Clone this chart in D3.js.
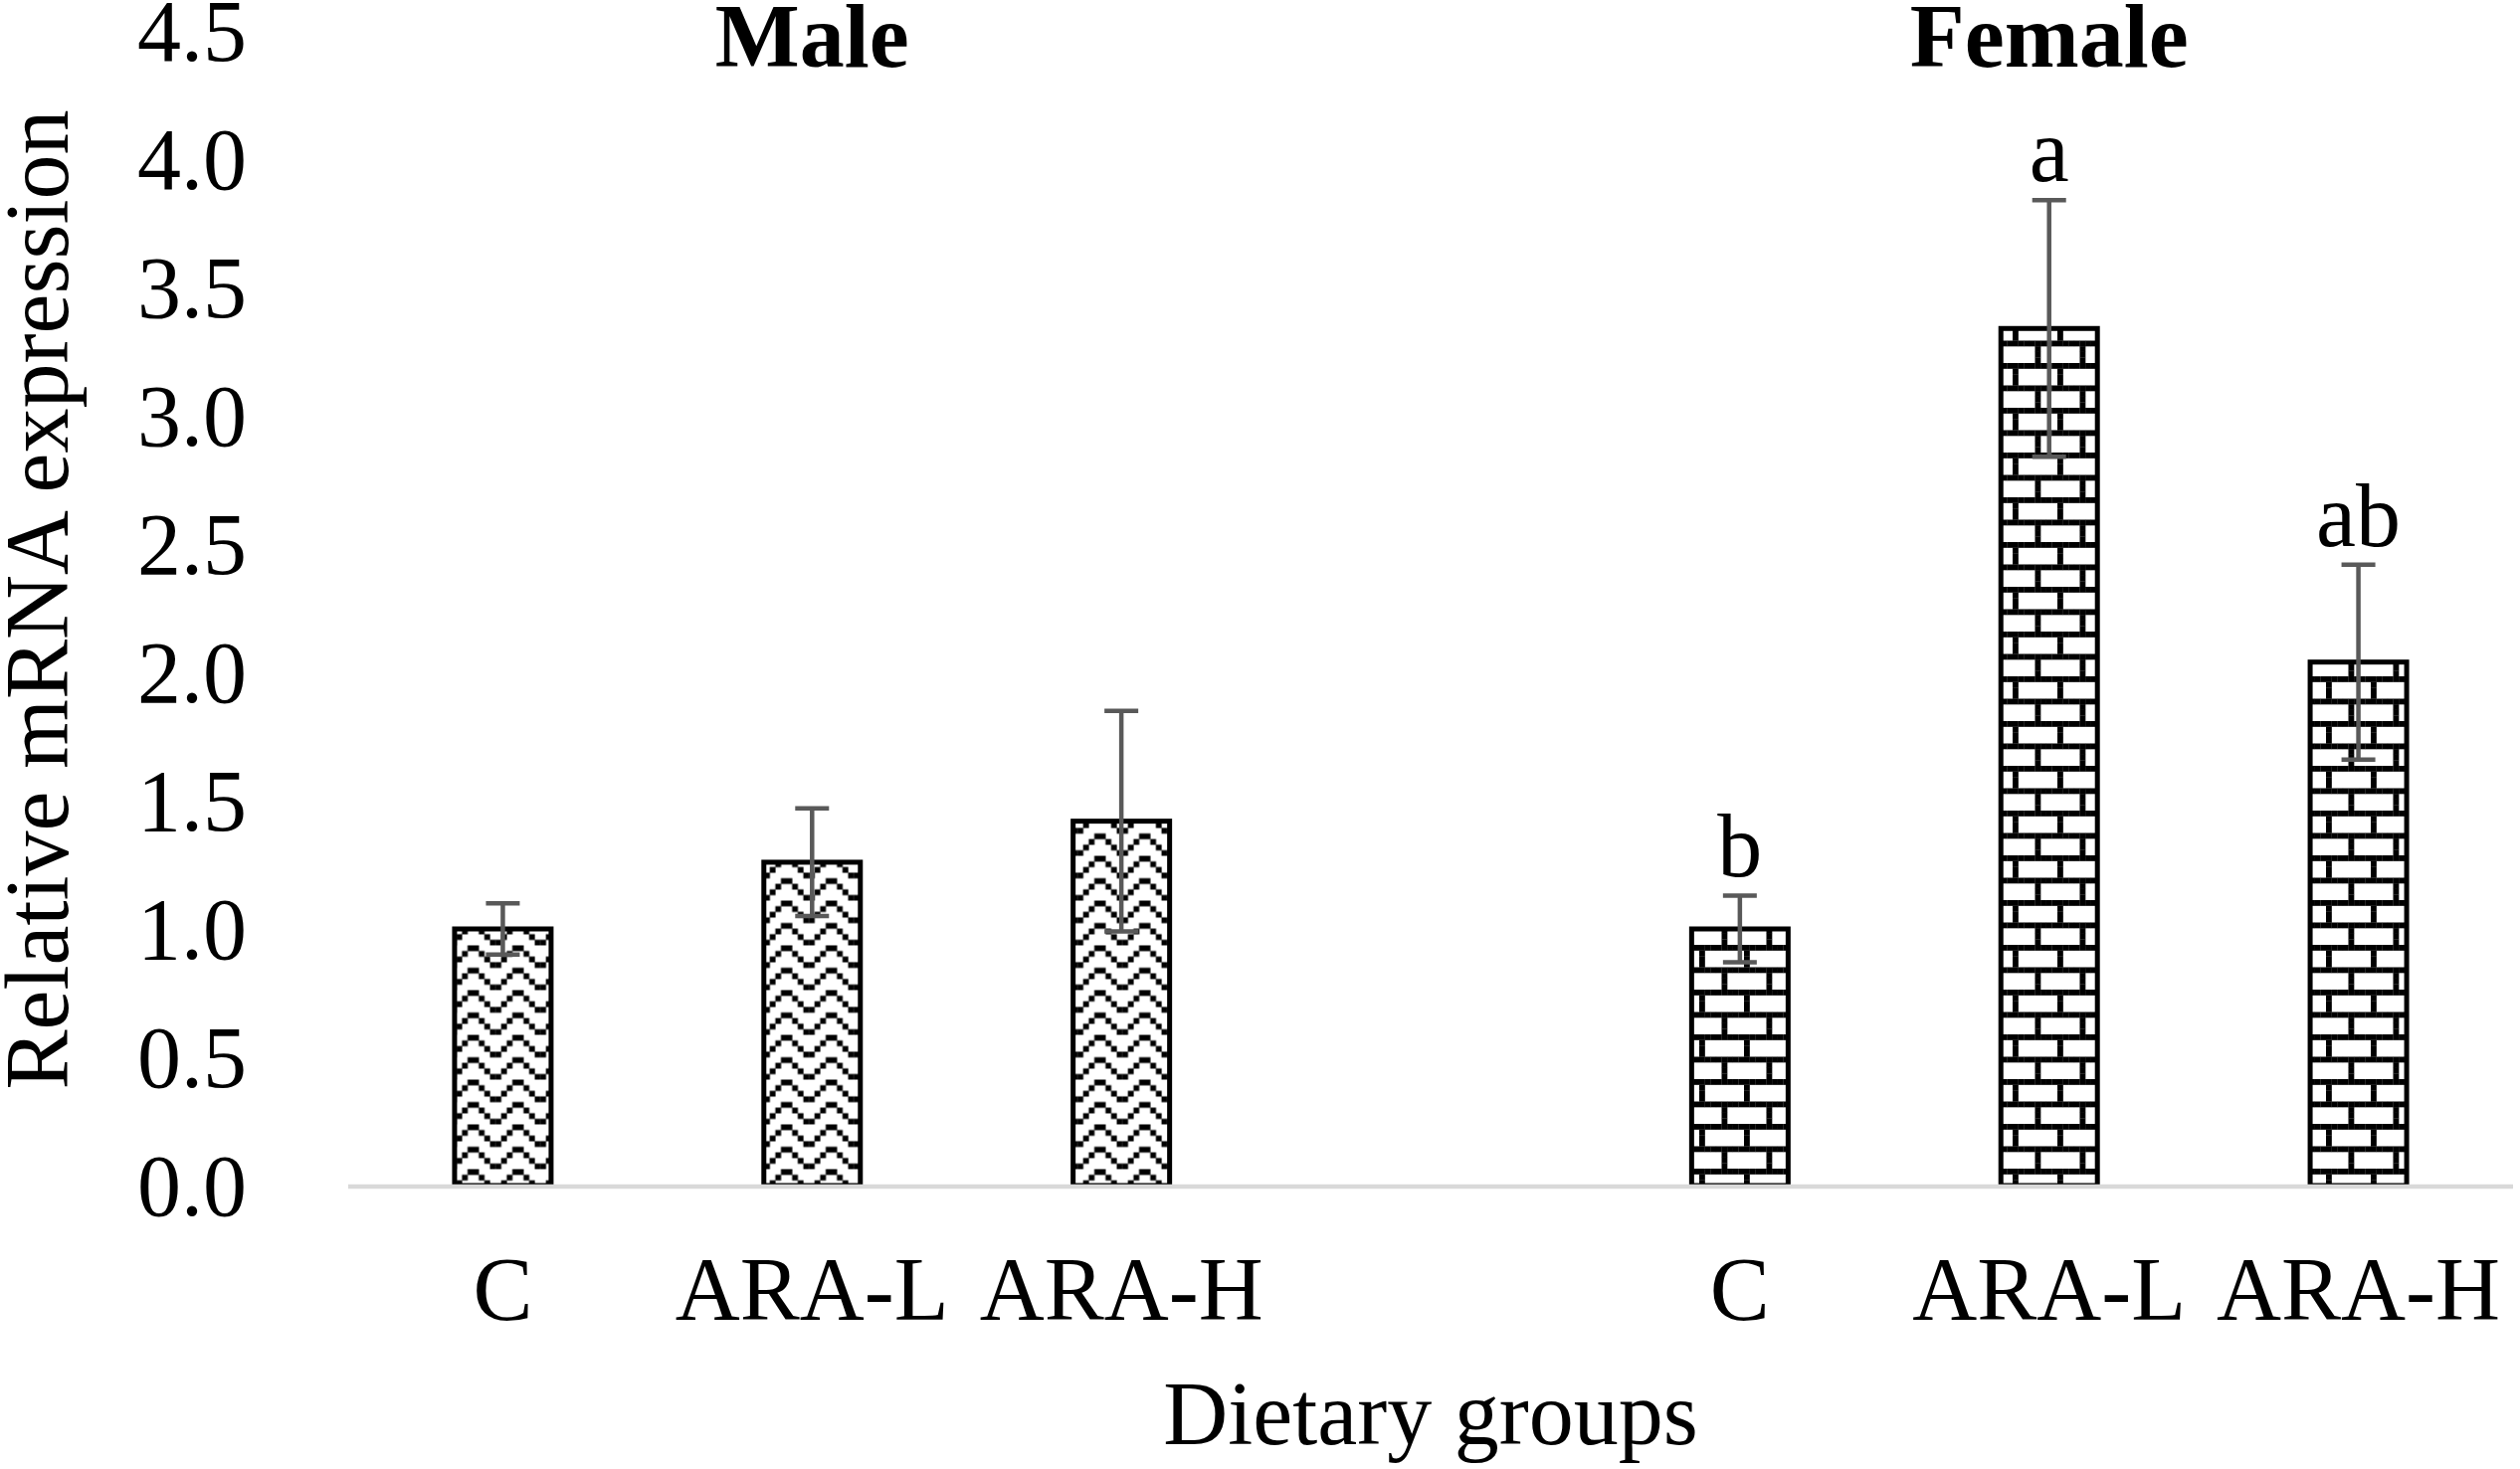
<!DOCTYPE html>
<html>
<head>
<meta charset="utf-8">
<script src="https://cdn.jsdelivr.net/npm/d3@7"></script>
<style>
  html, body { margin: 0; padding: 0; background: #fff; }
  svg { display: block; }
  text { font-family: "Liberation Serif", "Times New Roman", serif; fill: #000; }
</style>
</head>
<body>
<svg id="chart" width="2533" height="1477"></svg>
<script>
// ---- data ----
const slotKeys   = ["M-C", "M-ARA-L", "M-ARA-H", "gap", "F-C", "F-ARA-L", "F-ARA-H"];
const slotLabels = ["C", "ARA-L", "ARA-H", "", "C", "ARA-L", "ARA-H"];
const maleKeys   = ["M-C", "M-ARA-L", "M-ARA-H"];
const maleMeans  = [1.00, 1.26, 1.42];
const maleErrors = [0.10, 0.21, 0.43];
const femaleKeys   = ["F-C", "F-ARA-L", "F-ARA-H"];
const femaleMeans  = [1.00, 3.34, 2.04];
const femaleErrors = [0.13, 0.50, 0.38];
const femaleLetters = ["b", "a", "ab"];
const groupTitles = ["Male", "Female"];
const groupTitleKeys = ["M-ARA-L", "F-ARA-L"];
const yTicks = [0, 0.5, 1, 1.5, 2, 2.5, 3, 3.5, 4, 4.5];
const yTitle = "Relative mRNA expression";
const xTitle = "Dietary groups";

// ---- layout ----
const svg = d3.select("#chart");
const x = d3.scaleBand().domain(slotKeys).range([350, 2526]).padding(0);
const y = d3.scaleLinear().domain([0, 4.5]).range([1192, 31]);
const barW = x.bandwidth() * 0.312;

// ---- patterns (8x8 bitmaps, Excel-like) ----
const px = 45 / 8;
const defs = svg.append("defs");
function bitmapPattern(id, rows, ox, oy) {
  const p = defs.append("pattern").attr("id", id)
    .attr("patternUnits", "userSpaceOnUse")
    .attr("x", ox).attr("y", oy).attr("width", 45).attr("height", 45);
  p.append("rect").attr("width", 45).attr("height", 45).attr("fill", "#fff");
  rows.forEach((bits, r) => {
    for (let c = 0; c < 8; c++) {
      if (bits & (0x80 >> c)) {
        p.append("rect").attr("x", c * px).attr("y", r * px)
          .attr("width", px + 0.2).attr("height", px + 0.2).attr("fill", "#000");
      }
    }
  });
}
bitmapPattern("zigzag", [0x81, 0x42, 0x24, 0x18, 0x81, 0x42, 0x24, 0x18], 25.6, 5.5);
bitmapPattern("brick",  [0xFF, 0x80, 0x80, 0x80, 0xFF, 0x08, 0x08, 0x08], 43, 5);

// ---- bars ----
const male = maleKeys.map((k, i) => ({ k, v: maleMeans[i], e: maleErrors[i], lab: "" }));
const female = femaleKeys.map((k, i) => ({ k, v: femaleMeans[i], e: femaleErrors[i], lab: femaleLetters[i] }));

function drawBars(data, fillId) {
  svg.append("g").selectAll("rect").data(data).join("rect")
    .attr("x", d => x(d.k) + x.bandwidth() / 2 - barW / 2)
    .attr("y", d => y(d.v))
    .attr("width", barW)
    .attr("height", d => y(0) - y(d.v))
    .attr("fill", `url(#${fillId})`)
    .attr("stroke", "#000")
    .attr("stroke-width", 5);
}
drawBars(male, "zigzag");
drawBars(female, "brick");

// ---- x axis baseline ----
svg.append("line")
  .attr("x1", x.range()[0]).attr("x2", x.range()[1])
  .attr("y1", y(0) + 1).attr("y2", y(0) + 1)
  .attr("stroke", "#d9d9d9").attr("stroke-width", 4.5);

// ---- error bars ----
const all = male.concat(female);
const capW = 34;
const eg = svg.append("g").attr("stroke", "#595959").attr("stroke-width", 4.5);
all.forEach(d => {
  const cx = x(d.k) + x.bandwidth() / 2;
  eg.append("line").attr("x1", cx).attr("x2", cx).attr("y1", y(d.v + d.e)).attr("y2", y(d.v - d.e));
  eg.append("line").attr("x1", cx - capW / 2).attr("x2", cx + capW / 2).attr("y1", y(d.v + d.e)).attr("y2", y(d.v + d.e));
  eg.append("line").attr("x1", cx - capW / 2).attr("x2", cx + capW / 2).attr("y1", y(d.v - d.e)).attr("y2", y(d.v - d.e));
});

// ---- significance letters ----
svg.append("g").selectAll("text").data(female).join("text")
  .attr("x", d => x(d.k) + x.bandwidth() / 2)
  .attr("y", d => y(d.v + d.e) - 19)
  .attr("text-anchor", "middle")
  .style("font-size", "90px")
  .text(d => d.lab);

// ---- group titles ----
svg.append("g").selectAll("text").data(groupTitles).join("text")
  .attr("x", (d, i) => x(groupTitleKeys[i]) + x.bandwidth() / 2)
  .attr("y", 67)
  .attr("text-anchor", "middle")
  .style("font-size", "90px").style("font-weight", "bold")
  .text(d => d);

// ---- y axis ----
const yAxis = d3.axisLeft(y).tickValues(yTicks).tickSize(0).tickPadding(2)
  .tickFormat(d3.format(".1f"));
const yg = svg.append("g").attr("transform", "translate(250,0)").call(yAxis);
yg.select(".domain").remove();
yg.selectAll("text").attr("dy", "0.34em")
  .style("font-size", "88px").style("font-family", "'Liberation Serif', serif").attr("fill", "#000");

// ---- x axis labels ----
const xAxis = d3.axisBottom(x).tickSize(0).tickPadding(71)
  .tickFormat((d, i) => slotLabels[i]);
const xg = svg.append("g").attr("transform", `translate(0,${y(0)})`).call(xAxis);
xg.select(".domain").remove();
xg.selectAll("text").style("font-size", "90px").style("font-family", "'Liberation Serif', serif").attr("fill", "#000");

// ---- axis titles ----
svg.append("text")
  .attr("transform", "translate(68,603) rotate(-90)")
  .attr("text-anchor", "middle")
  .style("font-size", "90px")
  .text(yTitle);
svg.append("text")
  .attr("x", (x.range()[0] + x.range()[1]) / 2)
  .attr("y", 1452)
  .attr("text-anchor", "middle")
  .style("font-size", "90px")
  .text(xTitle);
</script>
</body>
</html>
